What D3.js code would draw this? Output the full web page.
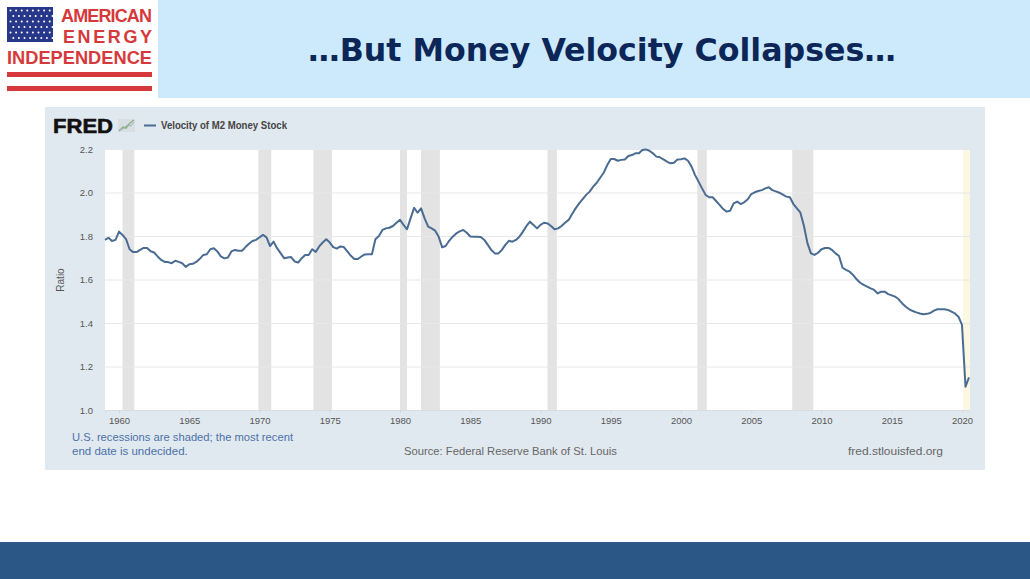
<!DOCTYPE html>
<html>
<head>
<meta charset="utf-8">
<script src="https://cdn.jsdelivr.net/npm/d3@7"></script>
<style>
  html, body { margin: 0; padding: 0; background: #ffffff; }
  svg { display: block; }
</style>
</head>
<body>
<svg id="slide" width="1030" height="579"></svg>
<script>
// Velocity of M2 Money Stock (M2V), trimestral 1959T1 - 2020T3
const START_YEAR = 1959;
const velocity = [
  1.782, 1.792, 1.777, 1.782, 1.820, 1.805, 1.786, 1.739, 1.726, 1.726,
  1.736, 1.745, 1.745, 1.730, 1.724, 1.706, 1.690, 1.681, 1.680, 1.675,
  1.686, 1.681, 1.675, 1.658, 1.670, 1.672, 1.681, 1.695, 1.713, 1.716,
  1.739, 1.744, 1.729, 1.706, 1.697, 1.701, 1.729, 1.736, 1.732, 1.732,
  1.749, 1.764, 1.777, 1.782, 1.794, 1.805, 1.794, 1.754, 1.774, 1.744,
  1.721, 1.698, 1.701, 1.703, 1.683, 1.678, 1.698, 1.713, 1.713, 1.739,
  1.727, 1.752, 1.770, 1.785, 1.770, 1.749, 1.742, 1.752, 1.749, 1.729,
  1.709, 1.694, 1.694, 1.706, 1.715, 1.716, 1.716, 1.785, 1.800, 1.828,
  1.835, 1.838, 1.846, 1.861, 1.874, 1.851, 1.831, 1.881, 1.930, 1.907,
  1.927, 1.881, 1.843, 1.835, 1.825, 1.797, 1.748, 1.754, 1.778, 1.797,
  1.812, 1.821, 1.828, 1.815, 1.798, 1.797, 1.796, 1.795, 1.782, 1.759,
  1.736, 1.720, 1.720, 1.736, 1.759, 1.778, 1.774, 1.782, 1.797, 1.820,
  1.846, 1.866, 1.851, 1.835, 1.851, 1.861, 1.858, 1.846, 1.831, 1.835,
  1.846, 1.861, 1.874, 1.901, 1.927, 1.950, 1.970, 1.989, 2.004, 2.027,
  2.045, 2.068, 2.091, 2.126, 2.154, 2.154, 2.146, 2.150, 2.152, 2.168,
  2.172, 2.180, 2.180, 2.195, 2.198, 2.192, 2.180, 2.165, 2.162, 2.152,
  2.142, 2.134, 2.137, 2.152, 2.153, 2.157, 2.146, 2.119, 2.080, 2.050,
  2.019, 1.989, 1.978, 1.978, 1.961, 1.943, 1.924, 1.912, 1.916, 1.950,
  1.958, 1.947, 1.955, 1.969, 1.993, 2.001, 2.007, 2.011, 2.019, 2.024,
  2.011, 2.005, 1.999, 1.990, 1.981, 1.978, 1.947, 1.927, 1.907, 1.846,
  1.766, 1.720, 1.713, 1.723, 1.739, 1.745, 1.745, 1.736, 1.720, 1.708,
  1.654, 1.644, 1.636, 1.621, 1.601, 1.585, 1.575, 1.567, 1.559, 1.552,
  1.536, 1.544, 1.544, 1.533, 1.527, 1.521, 1.509, 1.490, 1.475, 1.463,
  1.455, 1.449, 1.444, 1.440, 1.442, 1.446, 1.457, 1.463, 1.463, 1.463,
  1.460, 1.452, 1.444, 1.429, 1.391, 1.107, 1.150
];

// Recesiones NBER (pico -> valle); la ultima sin fecha de fin
const recessionStarts = ["1960-04-01", "1969-12-01", "1973-11-01", "1980-01-01", "1981-07-01", "1990-07-01", "2001-03-01", "2007-12-01"];
const recessionEnds   = ["1961-02-01", "1970-11-01", "1975-03-01", "1980-07-01", "1982-11-01", "1991-03-01", "2001-11-01", "2009-06-01"];
const openRecessionStart = "2020-02-01";

const yTicks = [1.0, 1.2, 1.4, 1.6, 1.8, 2.0, 2.2];
const xTickYears = [1960, 1965, 1970, 1975, 1980, 1985, 1990, 1995, 2000, 2005, 2010, 2015, 2020];

const SERIES_NAME = "Velocity of M2 Money Stock";
const TITLE = "\u2026But Money Velocity Collapses\u2026";

const parseDate = d3.timeParse("%Y-%m-%d");
const series = velocity.map((v, i) => ({
  date: new Date(START_YEAR + Math.floor(i / 4), (i % 4) * 3, 1),
  value: v
}));

const svg = d3.select("#slide");
const FONT = "'Liberation Sans', Arial, sans-serif";

// ---- Cabecera de la diapositiva ----
svg.append("rect").attr("x", 158).attr("y", 0).attr("width", 872).attr("height", 98).attr("fill", "#cdeafc");
svg.append("text")
  .attr("x", 308).attr("y", 61)
  .attr("font-family", "'DejaVu Sans Condensed', 'DejaVu Sans', sans-serif")
  .attr("font-weight", "bold")
  .attr("font-size", 32)
  .attr("textLength", 588)
  .attr("lengthAdjust", "spacingAndGlyphs")
  .attr("fill", "#0c2658")
  .text(TITLE);

// Logo
const logo = svg.append("g");
const RED = "#d6393b";
logo.append("rect").attr("x", 7).attr("y", 7).attr("width", 46).attr("height", 35).attr("fill", "#27378a");
for (let r = 0; r < 6; r++) {
  for (let c = 0; c < 8; c++) {
    logo.append("circle")
      .attr("cx", 10.5 + c * 5.6 + (r % 2) * 2.8)
      .attr("cy", 10.5 + r * 5.5)
      .attr("r", 1)
      .attr("fill", "#ffffff");
  }
}
logo.append("text").attr("x", 61).attr("y", 21.5)
  .attr("font-family", FONT).attr("font-weight", "bold").attr("font-size", 18)
  .attr("textLength", 91).attr("lengthAdjust", "spacing")
  .attr("fill", RED).text("AMERICAN");
logo.append("text").attr("x", 63).attr("y", 43)
  .attr("font-family", FONT).attr("font-weight", "bold").attr("font-size", 18)
  .attr("textLength", 89).attr("lengthAdjust", "spacing")
  .attr("fill", RED).text("ENERGY");
logo.append("text").attr("x", 7).attr("y", 63.5)
  .attr("font-family", FONT).attr("font-weight", "bold").attr("font-size", 18)
  .attr("textLength", 145).attr("lengthAdjust", "spacingAndGlyphs")
  .attr("fill", RED).text("INDEPENDENCE");
logo.append("rect").attr("x", 7).attr("y", 72).attr("width", 145).attr("height", 5).attr("fill", RED);
logo.append("rect").attr("x", 7).attr("y", 86).attr("width", 145).attr("height", 5).attr("fill", RED);

// ---- Panel FRED ----
svg.append("rect").attr("x", 45).attr("y", 107).attr("width", 940).attr("height", 363).attr("fill", "#e1e9f0");

svg.append("text").attr("x", 53).attr("y", 133)
  .attr("font-family", FONT).attr("font-weight", "bold").attr("font-size", 21)
  .attr("textLength", 60).attr("lengthAdjust", "spacingAndGlyphs")
  .attr("fill", "#111").attr("stroke", "#111").attr("stroke-width", 0.6)
  .text("FRED");
// icono pequeno junto al logo
const icon = svg.append("g");
icon.append("rect").attr("x", 118).attr("y", 119).attr("width", 17).attr("height", 13).attr("fill", "#d9dee3");
icon.append("path").attr("d", "M119,131 L123,127 L126,128 L130,123 L134,120")
  .attr("fill", "none").attr("stroke", "#8fb07e").attr("stroke-width", 1.5);
icon.append("path").attr("d", "M119,130 L123,129 L127,125 L131,126 L134,122")
  .attr("fill", "none").attr("stroke", "#9bb3c9").attr("stroke-width", 1);

svg.append("line").attr("x1", 144).attr("x2", 156).attr("y1", 125.5).attr("y2", 125.5)
  .attr("stroke", "#4a6c93").attr("stroke-width", 2);
svg.append("text").attr("x", 161).attr("y", 129)
  .attr("font-family", FONT).attr("font-weight", "bold").attr("font-size", 10)
  .attr("textLength", 126).attr("lengthAdjust", "spacingAndGlyphs")
  .attr("fill", "#444").text(SERIES_NAME);

// ---- Grafico ----
const plot = { left: 105, right: 970, top: 149, bottom: 410 };

const x = d3.scaleTime()
  .domain([series[0].date, series[series.length - 1].date])
  .range([plot.left, 969]);
const y = d3.scaleLinear().domain([1.0, 2.2]).range([plot.bottom, plot.top]);

svg.append("rect")
  .attr("x", plot.left).attr("y", plot.top)
  .attr("width", plot.right - plot.left).attr("height", plot.bottom - plot.top)
  .attr("fill", "#ffffff");

// sombreado de recesiones
svg.append("g").selectAll("rect")
  .data(recessionStarts.map((s, i) => [parseDate(s), parseDate(recessionEnds[i])]))
  .enter().append("rect")
  .attr("x", d => x(d[0]))
  .attr("width", d => x(d[1]) - x(d[0]))
  .attr("y", plot.top).attr("height", plot.bottom - plot.top)
  .attr("fill", "#e3e3e3");
svg.append("rect")
  .attr("x", x(parseDate(openRecessionStart)))
  .attr("width", plot.right - x(parseDate(openRecessionStart)))
  .attr("y", plot.top).attr("height", plot.bottom - plot.top)
  .attr("fill", "#fbf7e1");

// rejilla horizontal
const yAxis = d3.axisLeft(y).tickValues(yTicks).tickFormat(d3.format(".1f"))
  .tickSize(-(plot.right - plot.left)).tickPadding(12);
const gy = svg.append("g").attr("transform", `translate(${plot.left},0)`).call(yAxis);
gy.select(".domain").remove();
gy.selectAll(".tick line").attr("stroke", "#e8e8e8").attr("stroke-width", 1);
gy.selectAll(".tick text").attr("font-family", FONT).attr("font-size", 9.5).attr("fill", "#555");

const xAxis = d3.axisBottom(x)
  .tickValues(xTickYears.map(yr => new Date(yr, 0, 1)))
  .tickFormat(d3.timeFormat("%Y")).tickSize(3).tickPadding(4);
const gx = svg.append("g").attr("transform", `translate(0,${plot.bottom})`).call(xAxis);
gx.select(".domain").attr("stroke", "#d8dde3");
gx.selectAll(".tick line").attr("stroke", "#d0d6dc");
gx.selectAll(".tick text").attr("font-family", FONT).attr("font-size", 9.5).attr("fill", "#555");

svg.append("text")
  .attr("transform", "translate(64,280) rotate(-90)")
  .attr("text-anchor", "middle")
  .attr("font-family", FONT).attr("font-size", 10).attr("fill", "#555")
  .text("Ratio");

// serie
const line = d3.line().x(d => x(d.date)).y(d => y(d.value)).curve(d3.curveLinear);
svg.append("path")
  .datum(series)
  .attr("d", line)
  .attr("fill", "none")
  .attr("stroke", "#4a6c93")
  .attr("stroke-width", 2)
  .attr("stroke-linejoin", "round");

// ---- Pie del panel ----
svg.append("text").attr("x", 72).attr("y", 441)
  .attr("font-family", FONT).attr("font-size", 11.5).attr("fill", "#4a72a8")
  .attr("textLength", 221).attr("lengthAdjust", "spacingAndGlyphs")
  .text("U.S. recessions are shaded; the most recent");
svg.append("text").attr("x", 72).attr("y", 455)
  .attr("font-family", FONT).attr("font-size", 11.5).attr("fill", "#4a72a8")
  .text("end date is undecided.");
svg.append("text").attr("x", 404).attr("y", 455)
  .attr("font-family", FONT).attr("font-size", 11.5).attr("fill", "#666")
  .attr("textLength", 213).attr("lengthAdjust", "spacingAndGlyphs")
  .text("Source: Federal Reserve Bank of St. Louis");
svg.append("text").attr("x", 848).attr("y", 455)
  .attr("font-family", FONT).attr("font-size", 11.5).attr("fill", "#666")
  .attr("textLength", 95).attr("lengthAdjust", "spacingAndGlyphs")
  .text("fred.stlouisfed.org");

// ---- Banda inferior ----
svg.append("rect").attr("x", 0).attr("y", 542).attr("width", 1030).attr("height", 37).attr("fill", "#2a5785");
</script>
</body>
</html>
